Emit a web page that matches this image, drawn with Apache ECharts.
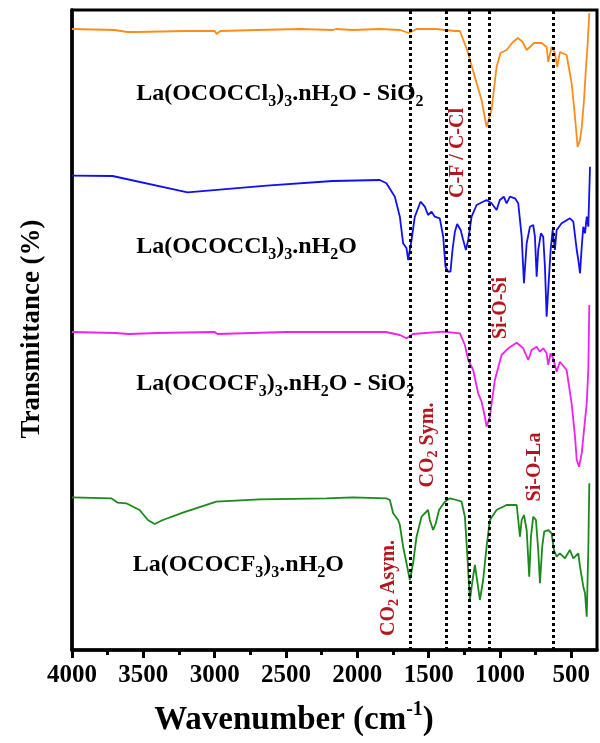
<!DOCTYPE html>
<html><head><meta charset="utf-8">
<script src="https://cdn.jsdelivr.net/npm/echarts@6/dist/echarts.min.js"></script>
<style>html,body{margin:0;padding:0;background:#fff}#c{width:600px;height:743px}</style>
</head><body><div id="c"></div>
<script>
const FONT = '"Liberation Serif","Times New Roman",serif';
const xTickLabels = [4000, 3500, 3000, 2500, 2000, 1500, 1000, 500];
const xMinorTicks = [3750, 3250, 2750, 2250, 1750, 1250, 750];
const bandPositions = [1630, 1378, 1212, 1072, 625];

// La(OCOCCl3)3.nH2O - SiO2 (orange)
const orangeWn = [4000,3700,3611,3550,3200,3000,2986,2960,2700,2400,2172,2150,2032,1843,1700,1639,1585,1450,1316,1281,1230,1164,1129,1094,1059,1024,996,954,909,874,841,813,790,762,708,673,662,638,615,599,580,533,498,474,456,439,427,411,397,388,374];
const orangeT  = [621,620,618,618,619,619,616,619,620,621,620,621,620,621,620,617,621,621,619,619,600,567,550,523,540,583,597,600,608,612,608,600,603,607,607,603,588,603,597,583,598,595,567,533,503,510,523,550,583,600,637];

// La(OCOCCl3)3.nH2O (blue)
const blueWn = [4000,3716,3190,2635,2172,1843,1796,1737,1702,1679,1655,1644,1620,1597,1557,1527,1504,1480,1457,1422,1398,1382,1363,1347,1333,1316,1300,1276,1258,1239,1223,1199,1164,1094,1059,1024,1001,973,954,930,895,872,848,832,813,790,767,755,743,732,713,697,685,673,662,645,631,615,603,568,510,486,462,451,439,427,416,404,392,381,369];
const blueT  = [474.3,474,457.7,464.3,469,470,466.7,453.3,433.3,406.7,401.7,390,410,433.3,448.3,443.3,435,438.3,433.3,431.7,413.3,383.3,378.3,378.3,400,418.3,426,420,410,400,410,433.3,445,450,446.7,440,450,453.3,446.7,453.3,451.7,446.7,413.3,366.7,406.7,423.3,425,413.3,373.3,400,416.7,413.3,383.3,333.3,360,400,420,400,420,426.7,431.7,428.3,400,390,376.7,403.3,423.3,416.7,433.3,423.3,483.3];

// La(OCOCF3)3.nH2O - SiO2 (magenta)
const magentaWn = [4000,3700,3600,3400,3000,2980,2500,2000,1800,1702,1655,1609,1398,1281,1246,1223,1188,1153,1129,1106,1094,1071,1036,989,942,883,837,802,778,743,720,697,673,662,645,627,603,580,533,498,474,462,446,427,411,392,381,374];
const magentaT  = [318,317,316,317,318,316,318,318,318,315,311.7,316,318.3,316.7,305,290,280,256.7,248.3,233.3,223.3,233.3,270,295,301.7,307.3,301.7,290,300,303.3,298.3,301.7,296.7,285,296.7,291.7,278.3,288.3,280,246.7,213.3,190,183.3,196.7,220,246.7,280,345];

// La(OCOCF3)3.nH2O (green)
const greenWn = [4000,3725,3679,3620,3526,3468,3421,3363,3223,2988,2685,2216,2032,1796,1772,1749,1714,1702,1679,1655,1632,1609,1585,1550,1504,1492,1469,1450,1427,1387,1351,1304,1269,1246,1230,1211,1192,1176,1157,1141,1118,1094,1071,1024,954,883,872,860,848,832,813,795,783,767,748,732,720,704,690,662,638,622,603,580,545,510,486,451,439,416,404,392,381,374];
const greenT  = [152.7,151.7,147.3,146.7,140,130,126,130,137.3,148.3,150.7,151.7,152.7,151.7,150,136.7,130,125,103.3,86.7,70,86.7,113.3,133.3,140,130,120,126.7,140,148.3,151.7,150,148.3,133.3,96.7,50,70,85,66.7,50,70,103.3,130,140,145,145,130,113.3,130,135,120,73.3,113.3,133.3,130,100,66.7,103.3,118.3,120,116.7,100,93.3,96.7,91.7,100,91.7,96.7,83.3,63.3,56.7,33.3,100,166.7];

const zip = (a, b) => a.map((v, i) => [v, b[i]]);

const traces = [
  { name: 'La(OCOCCl3)3.nH2O - SiO2', wn: orangeWn, t: orangeT, color: '#ff8c1a' },
  { name: 'La(OCOCCl3)3.nH2O', wn: blueWn, t: blueT, color: '#1010f0' },
  { name: 'La(OCOCF3)3.nH2O - SiO2', wn: magentaWn, t: magentaT, color: '#f020f0' },
  { name: 'La(OCOCF3)3.nH2O', wn: greenWn, t: greenT, color: '#1a8a1a' }
];

const chart = echarts.init(document.getElementById('c'), null, { renderer: 'canvas' });

const series = traces.map(s => ({
  name: s.name, type: 'line', data: zip(s.wn, s.t), showSymbol: false, symbol: 'none',
  lineStyle: { color: s.color, width: 1.8 }, itemStyle: { color: s.color }, z: 2, animation: false
}));
series.push({
  name: 'bands', type: 'line', data: [], z: 5, animation: false,
  markLine: {
    silent: true, symbol: ['none', 'none'], animation: false,
    label: { show: false },
    lineStyle: { color: '#000', width: 3, type: [3, 3], cap: 'butt' },
    data: bandPositions.map(v => ({ xAxis: v }))
  }
});

chart.setOption({
  animation: false,
  backgroundColor: '#fff',
  grid: { left: 72, right: 3, top: 10, bottom: 93, show: true, borderColor: '#000', borderWidth: 3 },
  xAxis: [{
    type: 'value', min: 320, max: 4000, inverse: true, position: 'bottom',
    axisLine: { show: true, onZero: false, lineStyle: { color: '#000', width: 3.5 } },
    axisTick: { show: true, customValues: xTickLabels, length: 8, lineStyle: { color: '#000', width: 3 } },
    axisLabel: { customValues: xTickLabels, formatter: v => String(v), fontFamily: FONT, fontWeight: 'bold', fontSize: 25, color: '#000', margin: 13 },
    splitLine: { show: false }
  }, {
    type: 'value', min: 320, max: 4000, inverse: true, position: 'bottom', gridIndex: 0,
    axisLine: { show: false },
    axisTick: { show: true, customValues: xMinorTicks, length: 5, lineStyle: { color: '#000', width: 3 } },
    axisLabel: { show: false },
    splitLine: { show: false }
  }],
  yAxis: {
    type: 'value', min: 0, max: 640,
    axisLine: { show: true, onZero: false, lineStyle: { color: '#000', width: 3.5 } },
    axisTick: { show: false }, axisLabel: { show: false }, splitLine: { show: false }
  },
  series: series
});

const P = (wn, v) => chart.convertToPixel({ xAxisIndex: 0, yAxisIndex: 0 }, [wn, v]);

const blackRich = {
  m: { fontSize: 24, fontWeight: 'bold', fontFamily: FONT, fill: '#000', lineHeight: 31 },
  s: { fontSize: 16, fontWeight: 'bold', fontFamily: FONT, fill: '#000', lineHeight: 16, verticalAlign: 'bottom' }
};
const redColor = '#b3161c';
const redRich = {
  m: { fontSize: 20, fontWeight: 'bold', fontFamily: FONT, fill: redColor, lineHeight: 26 },
  s: { fontSize: 14, fontWeight: 'bold', fontFamily: FONT, fill: redColor, lineHeight: 14, verticalAlign: 'bottom' }
};

const seriesLabels = [
  { wn: 3550, v: 556, text: '{m|La(OCOCCl}{s|3}{m|)}{s|3}{m|.nH}{s|2}{m|O - SiO}{s|2}' },
  { wn: 3550, v: 403, text: '{m|La(OCOCCl}{s|3}{m|)}{s|3}{m|.nH}{s|2}{m|O}' },
  { wn: 3550, v: 266, text: '{m|La(OCOCF}{s|3}{m|)}{s|3}{m|.nH}{s|2}{m|O - SiO}{s|2}' },
  { wn: 3575, v: 85,  text: '{m|La(OCOCF}{s|3}{m|)}{s|3}{m|.nH}{s|2}{m|O}' }
];
const bandLabels = [
  { wn: 1779, v: 62,  text: '{m|CO}{s|2}{m| Asym.}' },
  { wn: 1506, v: 205, text: '{m|CO}{s|2}{m| Sym.}' },
  { wn: 1295, v: 497, text: '{m|C-F / C-Cl}' },
  { wn: 994,  v: 342, text: '{m|Si-O-Si}' },
  { wn: 755,  v: 183, text: '{m|Si-O-La}' }
];

const graphics = [];
seriesLabels.forEach(l => {
  const p = P(l.wn, l.v);
  graphics.push({ type: 'text', x: p[0], y: p[1], z: 20, silent: true,
    style: { text: l.text, rich: blackRich, align: 'left', verticalAlign: 'middle' } });
});
bandLabels.forEach(l => {
  const p = P(l.wn, l.v);
  graphics.push({ type: 'text', x: p[0], y: p[1], rotation: Math.PI / 2, z: 20, silent: true,
    style: { text: l.text, rich: redRich, align: 'center', verticalAlign: 'middle' } });
});
graphics.push({ type: 'text', x: 32, y: 329, rotation: Math.PI / 2, z: 20, silent: true,
  style: { text: 'Transmittance (%)', font: 'bold 27px ' + FONT, fill: '#000', align: 'center', verticalAlign: 'middle' } });
graphics.push({ type: 'text', x: 294, y: 720, z: 20, silent: true,
  style: {
    text: '{m|Wavenumber (cm}{u|-1}{m|)}', align: 'center', verticalAlign: 'middle',
    rich: {
      m: { fontSize: 33, fontWeight: 'bold', fontFamily: FONT, fill: '#000', lineHeight: 40 },
      u: { fontSize: 20, fontWeight: 'bold', fontFamily: FONT, fill: '#000', lineHeight: 20, verticalAlign: 'top' }
    }
  } });

chart.setOption({ graphic: graphics });
</script>
</body></html>
